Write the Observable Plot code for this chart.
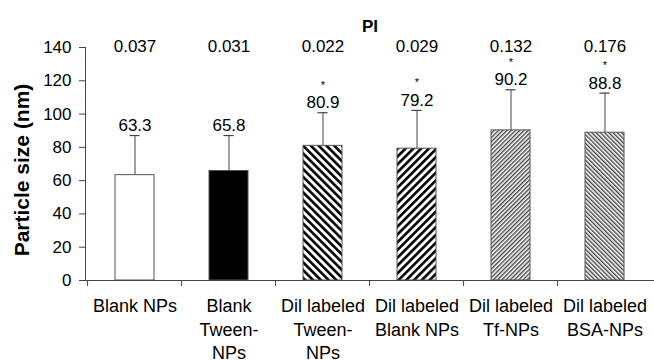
<!DOCTYPE html>
<html><head><meta charset="utf-8">
<script src="https://cdn.jsdelivr.net/npm/d3@7"></script>
<script src="https://cdn.jsdelivr.net/npm/@observablehq/plot@0.6"></script>
<style>body{margin:0;background:#fff} svg{display:block}</style>
</head><body><div id="chart"></div>
<script>
// ---- data ----
const groups = ["Blank NPs", "Blank Tween-NPs", "Dil labeled Tween-NPs", "Dil labeled Blank NPs", "Dil labeled Tf-NPs", "Dil labeled BSA-NPs"];
const tickLabels = ["Blank NPs", "Blank\nTween-\nNPs", "Dil labeled\nTween-\nNPs", "Dil labeled\nBlank NPs", "Dil labeled\nTf-NPs", "Dil labeled\nBSA-NPs"];
const means = [63.3, 65.8, 80.9, 79.2, 90.2, 88.8];
const sds = [23.8, 21.3, 19.9, 23.0, 24.4, 23.8];
const pis = ["0.037", "0.031", "0.022", "0.029", "0.132", "0.176"];
const significant = [false, false, true, true, true, true];
const fills = ["white", "black", "url(#hatchBack)", "url(#hatchFwd)", "url(#fineFwd)", "url(#fineBack)"];
const yTicks = [0, 20, 40, 60, 80, 100, 120, 140];
const titleText = "PI";
const yLabel = "Particle size (nm)";

// ---- layout ----
const W = 654, H = 363, mL = 85, mR = 0, mT = 47, mB = 83;
const step = (W - mL - mR) / groups.length;
const padding = 0.59;
const barW = step * (1 - padding);
const capW = 10;
const font = "'Liberation Sans', Arial, sans-serif";

const data = groups.map((g, i) => ({
  group: g, mean: means[i], sd: sds[i], top: means[i] + sds[i],
  pi: pis[i], sig: significant[i], fill: fills[i], label: tickLabels[i]
}));

const chart = Plot.plot({
  width: W, height: H,
  marginLeft: mL, marginRight: mR, marginTop: mT, marginBottom: mB,
  style: {fontFamily: font, fontSize: "17px", color: "#000", background: "#fff", overflow: "visible"},
  x: {domain: groups, paddingInner: padding, paddingOuter: padding / 2, axis: null},
  y: {domain: [0, 140], axis: null},
  color: {type: "identity"},
  marks: [
    Plot.barY(data, {x: "group", y: "mean", fill: "fill", stroke: "#555", strokeWidth: 1}),
    Plot.ruleX(data, {x: "group", y1: "mean", y2: "top", stroke: "#444", strokeWidth: 1}),
    Plot.tickY(data, {x: "group", y: "top", stroke: "#444", strokeWidth: 1.2,
      insetLeft: (barW - capW) / 2, insetRight: (barW - capW) / 2}),
    Plot.text(data, {x: "group", y: "top", text: d => d.mean.toFixed(1), dy: -10, fontSize: 17}),
    Plot.text(data.filter(d => d.sig), {x: "group", y: "top", text: () => "*", dy: -27.5, fontSize: 11}),
    Plot.text(data, {x: "group", text: "pi", frameAnchor: "top", dy: -7.5, fontSize: 17}),
    Plot.text([titleText], {text: d => d, frameAnchor: "top", dy: -28, fontWeight: "bold", fontSize: 17}),
    Plot.text([yLabel], {text: d => d, frameAnchor: "left", textAnchor: "middle", dx: -63, dy: 6, rotate: -90, fontWeight: "bold", fontSize: 21}),
    Plot.axisY({ticks: yTicks, tickSize: 6, tickPadding: 8, stroke: "#444", label: null, fontSize: 17}),
    Plot.frame({anchor: "left", stroke: "#444"}),
    Plot.ruleY([0], {stroke: "#444"}),
    Plot.ruleX(data, {x: "group", y1: 0, y2: 0, insetBottom: -6, dx: -step / 2, stroke: "#444"}),
    Plot.text(data, {x: "group", text: "label", frameAnchor: "bottom", lineAnchor: "top", dy: 15, lineHeight: 1.3, fontSize: 18})
  ]
});

// hatch patterns
const defs = d3.select(chart).insert("defs", ":first-child");
function stripes(id, angle, period, thick, color) {
  const p = defs.append("pattern").attr("id", id).attr("patternUnits", "userSpaceOnUse")
    .attr("width", period).attr("height", period).attr("patternTransform", `rotate(${angle})`);
  p.append("rect").attr("width", period).attr("height", period).attr("fill", "white");
  p.append("rect").attr("width", thick).attr("height", period).attr("fill", color);
}
stripes("hatchBack", -45, 5.5, 2.6, "#000");
stripes("hatchFwd", 45, 5.5, 2.6, "#000");
stripes("fineFwd", 45, 3, 1.4, "#444");
stripes("fineBack", -45, 3, 1.4, "#444");

document.getElementById("chart").appendChild(chart);
</script>
</body></html>
